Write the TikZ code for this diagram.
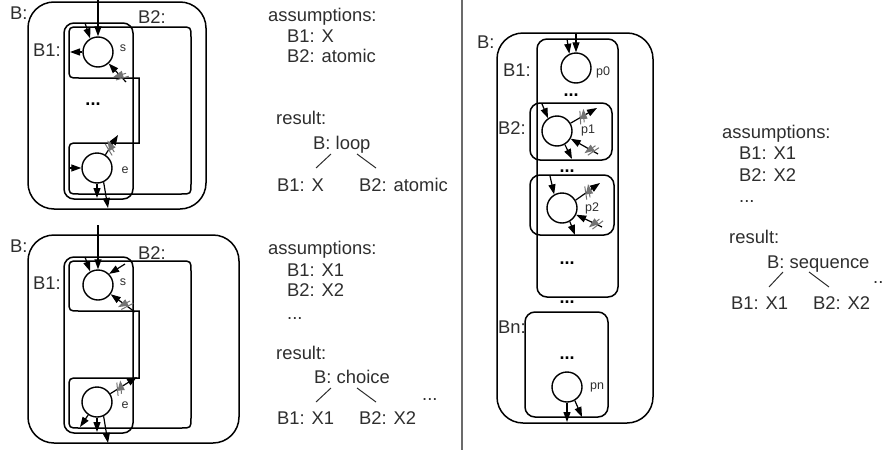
\documentclass[tikz,border=0pt]{standalone}
\usepackage{fontspec}
\setmainfont{Liberation Sans}
\usetikzlibrary{arrows.meta,decorations.markings}
\definecolor{txt}{gray}{0.18}
\definecolor{slashc}{gray}{0.45}
\definecolor{sepc}{gray}{0.42}
\begin{document}
\begin{tikzpicture}[x=1pt,y=-1pt,
  lbl/.style={anchor=base west, inner sep=0, font=\fontsize{18.4}{20}\selectfont, text=txt},
  small/.style={inner sep=0, font=\fontsize{12.5}{14}\selectfont, text=txt},
  dots/.style={anchor=base, inner sep=0, font=\fontsize{18}{20}\selectfont\bfseries},
  place/.style={circle, draw, line width=1.4pt, minimum size=30pt, inner sep=0},
  box/.style={draw, line width=1.5pt, rounded corners=10pt},
  outer/.style={draw, line width=1.5pt, rounded corners=26pt},
  arr/.style={-{Triangle[length=10pt,width=7pt]}, line width=1.2pt},
  tree/.style={line width=1pt, draw=txt},
  dslash/.style={postaction={decorate,decoration={markings,mark=at position #1 with {\draw[slashc,line width=1pt] (-4pt,-6pt) -- (2pt,6pt) (0pt,-6pt) -- (6pt,6pt);}}}}
]
\useasboundingbox (0,0) rectangle (886,450);

% separator
\draw[sepc, line width=1.2pt] (462,0) -- (462,450);

% ================= top-left: loop =================
\draw[outer] (28,2) rectangle (206,209);
\draw[box] (64,23) rectangle (133,199);
\draw[line width=1.5pt] (139,78) -- (79,78) .. controls (69,78) .. (69,68) -- (69,37) .. controls (69,27) .. (79,27)
  -- (181,27) .. controls (191,27) .. (191,37) -- (191,184) .. controls (191,194) .. (181,194)
  -- (79,194) .. controls (69,194) .. (69,184) -- (69,153) .. controls (69,143) .. (79,143) -- (139,143) -- cycle;
\node[lbl] (tlB) at (10,19) {B:};
\node[lbl] (tlB2) at (138,23) {B2:};
\node[lbl] (tlB1) at (33,56) {B1:};
\node[place] (s1) at (98,52) {};
\node[place] (e1) at (97,168) {};
\node[small] (s1l) at (123,48) {s};
\node[small] (e1l) at (125,170) {e};
\node[dots] (tld) at (93,105) {...};
\coordinate (a1) at (98,0);
\coordinate (a2) at (85,23);
\coordinate (a3) at (70,52);
\coordinate (a4) at (126,82);
\coordinate (a5) at (118,135);
\coordinate (a6) at (70,168);
\coordinate (a7) at (97,198);
\coordinate (a8) at (108,208);
\draw[arr] (a1) -- (s1);
\draw[arr] (a2) -- (s1.120);
\draw[arr] (s1) -- (a3);
\draw[arr, dslash=0.25] (a4) -- (s1);
\draw[arr, dslash=0.3] (e1) -- (a5);
\draw[arr] (a6) -- (e1);
\draw[arr] (e1.-90) -- (a7);
\draw[arr] (e1.-65) -- (a8);

\node[lbl] (tla) at (268,21) {assumptions:};
\node[lbl] (tla1) at (287,42) {B1: X};
\node[lbl] (tla2) at (287,62) {B2: atomic};
\node[lbl] (tlr) at (276,124) {result:};
\node[lbl] (tlroot) at (313,149) {B: loop};
\node[lbl] (tlc1) at (277,191) {B1: X};
\node[lbl] (tlc2) at (359,191) {B2: atomic};
\coordinate (t1a) at (331,154); \coordinate (t1b) at (316,168);
\coordinate (t1c) at (357,154); \coordinate (t1d) at (376,168);
\draw[tree] (t1a) -- (t1b);
\draw[tree] (t1c) -- (t1d);

% ================= bottom-left: choice =================
\draw[outer] (28,235) rectangle (239,443);
\draw[box] (64,257) rectangle (133,433);
\draw[line width=1.5pt] (139,311) -- (79,311) .. controls (69,311) .. (69,301) -- (69,271) .. controls (69,261) .. (79,261)
  -- (181,261) .. controls (191,261) .. (191,271) -- (191,418) .. controls (191,428) .. (181,428)
  -- (79,428) .. controls (69,428) .. (69,418) -- (69,388) .. controls (69,378) .. (79,378) -- (139,378) -- cycle;
\node[lbl] (blB) at (10,252) {B:};
\node[lbl] (blB2) at (138,259) {B2:};
\node[lbl] (blB1) at (33,289) {B1:};
\node[place] (s2) at (98,285) {};
\node[place] (e2) at (97,402) {};
\node[small] (s2l) at (123,282) {s};
\node[small] (e2l) at (125,405) {e};
\coordinate (b1) at (98,225);
\coordinate (b2) at (85,257);
\coordinate (b3) at (125,264);
\coordinate (b4) at (135,312);
\coordinate (b5) at (137,377);
\coordinate (b6) at (80,427);
\coordinate (b7) at (97,432);
\coordinate (b8) at (108,443);
\draw[arr] (b1) -- (s2);
\draw[arr] (b2) -- (s2.120);
\draw[arr] (b3) -- (s2.45);
\draw[arr, dslash=0.35] (b4) -- (s2);
\draw[arr, dslash=0.3] (e2) -- (b5);
\draw[arr] (e2) -- (b6);
\draw[arr] (e2.-90) -- (b7);
\draw[arr] (e2.-65) -- (b8);

\node[lbl] (bla) at (268,254) {assumptions:};
\node[lbl] (bla1) at (287,276) {B1: X1};
\node[lbl] (bla2) at (287,296) {B2: X2};
\node[lbl] (bla3) at (287,319) {...};
\node[lbl] (blr) at (276,359) {result:};
\node[lbl] (blroot) at (314,383) {B: choice};
\node[lbl] (blc1) at (277,424) {B1: X1};
\node[lbl] (blc2) at (359,424) {B2: X2};
\node[lbl] (blc3) at (422,400) {...};
\coordinate (t2a) at (331,388); \coordinate (t2b) at (316,402);
\coordinate (t2c) at (357,388); \coordinate (t2d) at (376,402);
\draw[tree] (t2a) -- (t2b);
\draw[tree] (t2c) -- (t2d);

% ================= right: sequence =================
\draw[outer] (497,33) rectangle (653,423);
\draw[box] (537,39) rectangle (618,297);
\draw[box] (530,103) rectangle (612,160);
\draw[box] (530,175) rectangle (614,235);
\draw[box] (525,312) rectangle (608,417);
\node[lbl] (rB) at (477,48) {B:};
\node[lbl] (rB1) at (503,76) {B1:};
\node[lbl] (rB2) at (498,134) {B2:};
\node[lbl] (rBn) at (498,333) {Bn:};
\node[place] (p0) at (576,68) {};
\node[place] (p1) at (557,131) {};
\node[place] (p2) at (562,208) {};
\node[place] (pn) at (567,387) {};
\node[small] (p0l) at (603,72) {p0};
\node[small] (p1l) at (588,130) {p1};
\node[small] (p2l) at (592,208) {p2};
\node[small] (pnl) at (597,387) {pn};
\node[dots] (rd1) at (571,96) {...};
\node[dots] (rd2) at (567,172) {...};
\node[dots] (rd3) at (567,264) {...};
\node[dots] (rd4) at (567,303) {...};
\node[dots] (rd5) at (567,359) {...};
\coordinate (c1) at (576,33);
\coordinate (c2) at (567,39);
\coordinate (c3) at (542,104);
\coordinate (c4) at (597,108);
\coordinate (c5) at (598,154);
\coordinate (c6) at (572,159);
\coordinate (c7) at (550,176);
\coordinate (c8) at (600,183);
\coordinate (c9) at (602,227);
\coordinate (c10) at (575,235);
\coordinate (c11) at (567,422);
\coordinate (c12) at (582,417);
\draw[arr] (c1) -- (p0);
\draw[arr] (c2) -- (p0.115);
\draw[arr] (c3) -- (p1.125);
\draw[arr, dslash=0.4] (p1.30) -- (c4);
\draw[arr, dslash=0.2] (c5) -- (p1);
\draw[arr] (p1.-60) -- (c6);
\draw[arr] (c7) -- (p2.120);
\draw[arr, dslash=0.45] (p2.30) -- (c8);
\draw[arr, dslash=0.2] (c9) -- (p2);
\draw[arr] (p2.-60) -- (c10);
\draw[arr] (pn.-90) -- (c11);
\draw[arr] (pn.-60) -- (c12);

\node[lbl] (ra) at (722,138) {assumptions:};
\node[lbl] (ra1) at (739,159) {B1: X1};
\node[lbl] (ra2) at (739,181) {B2: X2};
\node[lbl] (ra3) at (739,202) {...};
\node[lbl] (rr) at (729,243) {result:};
\node[lbl] (rroot) at (767,268) {B: sequence};
\node[lbl] (rc1) at (731,309) {B1: X1};
\node[lbl] (rc2) at (813,309) {B2: X2};
\node[lbl] (rc3) at (873,283) {..};
\coordinate (t3a) at (783,272); \coordinate (t3b) at (769,287);
\coordinate (t3c) at (809,272); \coordinate (t3d) at (829,287);
\draw[tree] (t3a) -- (t3b);
\draw[tree] (t3c) -- (t3d);
\end{tikzpicture}
\end{document}
